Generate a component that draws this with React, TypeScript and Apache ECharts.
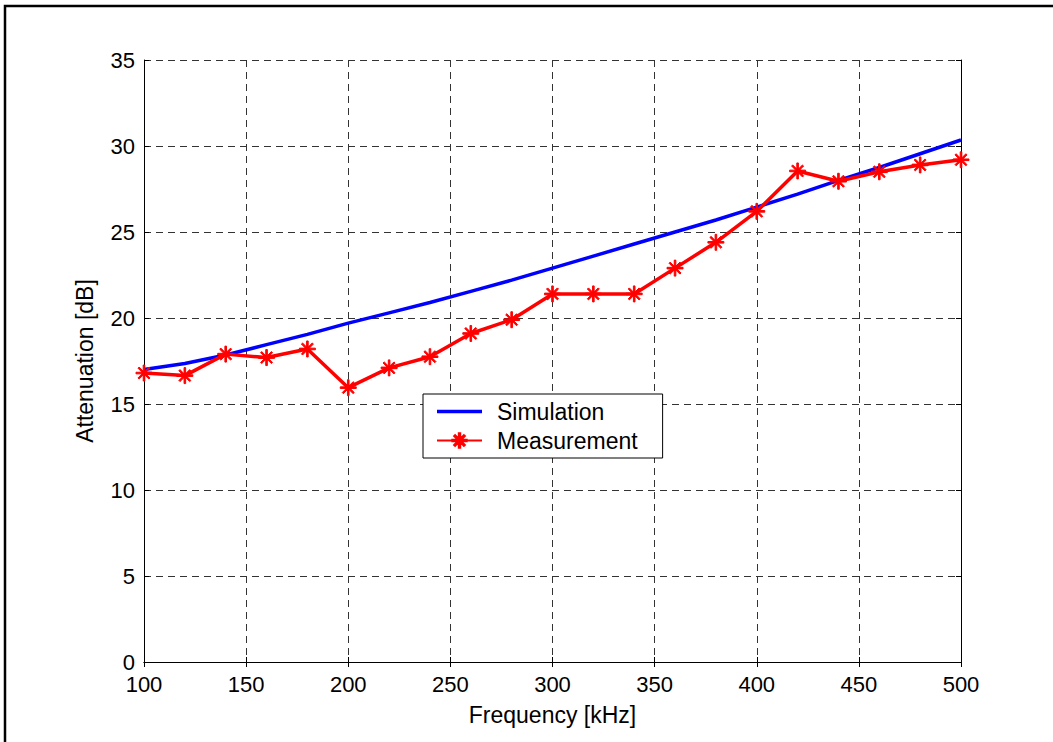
import React, { useEffect, useRef } from "react";
import * as echarts from "echarts";

const frequencies = [100, 120, 140, 160, 180, 200, 220, 240, 260, 280, 300, 320, 340, 360, 380, 400, 420, 440, 460, 480, 500];
const simulation = [17.0, 17.35, 17.85, 18.45, 19.05, 19.7, 20.3, 20.9, 21.55, 22.2, 22.9, 23.6, 24.3, 25.0, 25.7, 26.45, 27.2, 28.0, 28.75, 29.55, 30.35];
const measurement = [16.8, 16.65, 17.9, 17.7, 18.2, 15.95, 17.1, 17.75, 19.1, 19.9, 21.4, 21.4, 21.4, 22.9, 24.4, 26.2, 28.55, 27.95, 28.5, 28.9, 29.2];
const xTicks = { min: 100, max: 500, interval: 50 };
const yTicks = { min: 0, max: 35, interval: 5 };
const seriesNames = ["Simulation", "Measurement"];
const xName = "Frequency [kHz]";
const yName = "Attenuation [dB]";

const FONT = "'Liberation Sans', Arial, Helvetica, sans-serif";
const ASTERISK =
  "path://M10.8,0 L13.2,0 L13.2,24 L10.8,24 Z M0,10.8 L24,10.8 L24,13.2 L0,13.2 Z M3,4.7 L4.7,3 L21,19.3 L19.3,21 Z M19.3,3 L21,4.7 L4.7,21 L3,19.3 Z";
const LINE_ONLY = "path://M0,0 L0.01,0 L0.01,0.01 Z M0,7.25 L45,7.25 L45,10.75 L0,10.75 Z M44.99,17.99 L45,18 L44.99,18 Z";

export default function App() {
  const ref = useRef<HTMLDivElement>(null);
  useEffect(() => {
    if (!ref.current) return;
    const chart = echarts.init(ref.current, null, { renderer: "svg" });
    const axisLine = { show: true, lineStyle: { color: "#000", width: 1 } };
    const tick = { show: true, inside: true, length: 5, lineStyle: { color: "#000" } };
    const split = { show: true, lineStyle: { color: "#333", type: [7, 5] as any, width: 1 } };
    chart.setOption({
      animation: false,
      backgroundColor: "#fff",
      textStyle: { fontFamily: FONT },
      grid: { left: 144, top: 60, width: 817, height: 602, containLabel: false },
      xAxis: [
        {
          type: "value",
          ...xTicks,
          position: "bottom",
          name: xName,
          nameLocation: "middle",
          nameGap: 41,
          nameTextStyle: { fontSize: 23, color: "#000", fontFamily: FONT },
          axisLine,
          axisTick: tick,
          splitLine: split,
          axisLabel: { fontSize: 22, color: "#000", margin: 11, fontFamily: FONT },
        },
        {
          type: "value",
          ...xTicks,
          position: "top",
          axisLine,
          axisTick: tick,
          splitLine: { show: false },
          axisLabel: { show: false },
        },
      ],
      yAxis: [
        {
          type: "value",
          ...yTicks,
          position: "left",
          name: yName,
          nameLocation: "middle",
          nameGap: 48,
          nameTextStyle: { fontSize: 23, color: "#000", fontFamily: FONT },
          axisLine,
          axisTick: tick,
          splitLine: split,
          axisLabel: { fontSize: 22, color: "#000", margin: 9, fontFamily: FONT },
        },
        {
          type: "value",
          ...yTicks,
          position: "right",
          axisLine,
          axisTick: tick,
          splitLine: { show: false },
          axisLabel: { show: false },
        },
      ],
      legend: {
        show: true,
        orient: "vertical",
        left: 423,
        top: 394,
        padding: [6, 25, 6, 13],
        itemGap: 6,
        itemWidth: 45,
        itemHeight: 18,
        borderColor: "#000",
        borderWidth: 1,
        backgroundColor: "#fff",
        data: [
          { name: seriesNames[0], icon: LINE_ONLY, itemStyle: { color: "#0000ff" } },
          { name: seriesNames[1] },
        ],
        textStyle: { fontSize: 23, color: "#000", fontFamily: FONT, padding: [0, 0, 0, 10], lineHeight: 23 },
      },
      graphic: [
        {
          type: "rect",
          shape: { x: 5, y: 6, width: 1200, height: 900 },
          style: { fill: "none", stroke: "#000", lineWidth: 2.5 },
          silent: true,
        },
      ],
      series: [
        {
          name: seriesNames[0],
          type: "line",
          data: frequencies.map((f, i) => [f, simulation[i]]),
          showSymbol: false,
          symbol: "none",
          clip: false,
          lineStyle: { color: "#0000ff", width: 3.5 },
          itemStyle: { color: "#0000ff" },
        },
        {
          name: seriesNames[1],
          type: "line",
          data: frequencies.map((f, i) => [f, measurement[i]]),
          symbol: ASTERISK,
          symbolSize: 16,
          clip: false,
          lineStyle: { color: "#ff0000", width: 3.5 },
          itemStyle: { color: "#ff0000", borderColor: "#ff0000", borderWidth: 1 },
          z: 3,
        },
      ],
    });
    return () => chart.dispose();
  }, []);
  return (
    <div
      ref={ref}
      style={{ position: "fixed", left: 0, top: 0, width: 1053, height: 742, background: "#fff" }}
    />
  );
}
